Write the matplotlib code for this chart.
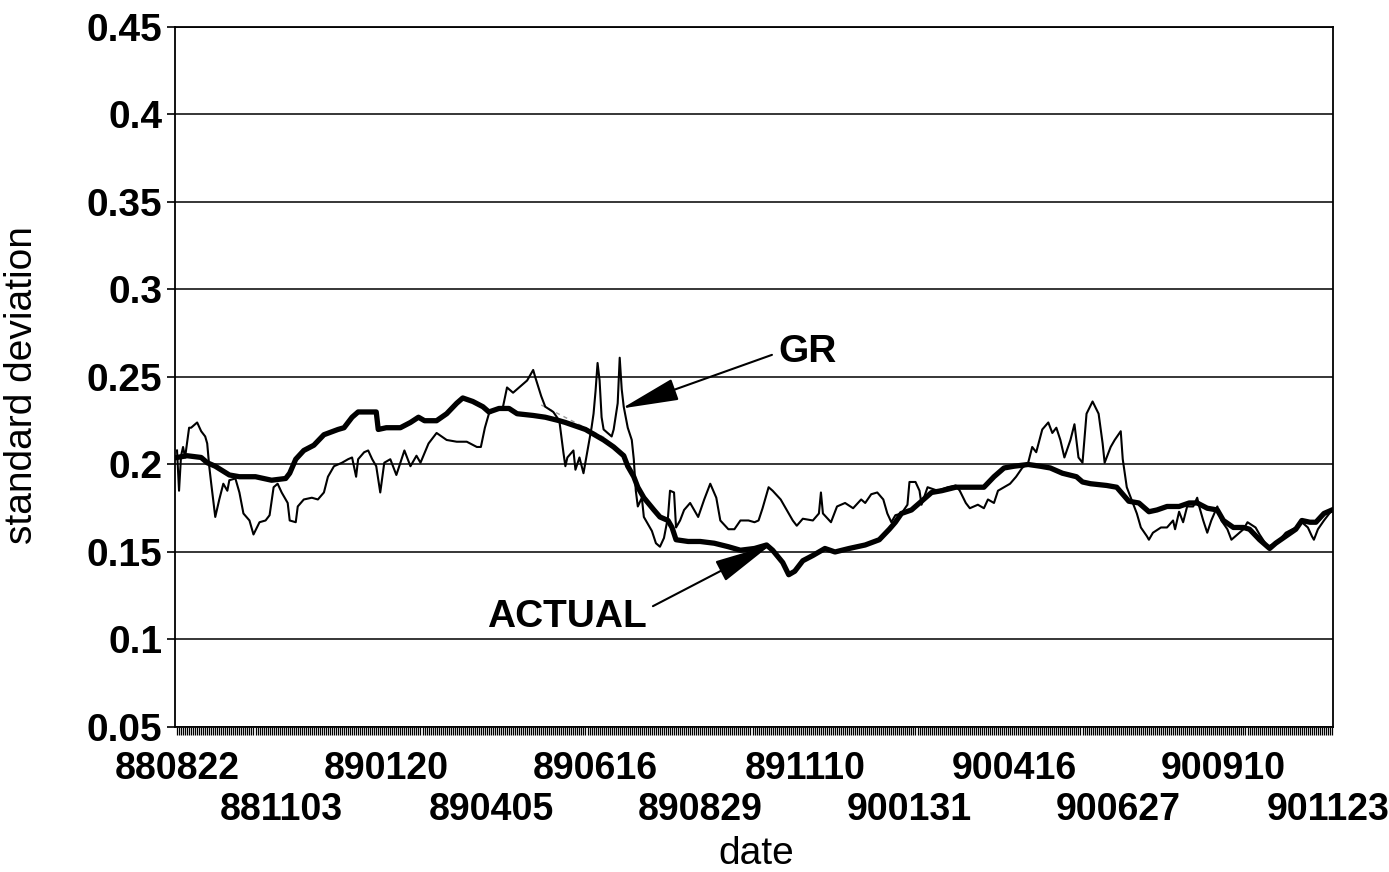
import matplotlib
matplotlib.use('Agg')
import matplotlib.pyplot as plt
import numpy as np

plt.rcParams['font.family'] = ['Liberation Sans', 'DejaVu Sans']

# ---------------- data ----------------
x_labels = ['880822', '881103', '890120', '890405', '890616', '890829',
            '891110', '900131', '900416', '900627', '900910', '901123']
label_step = 52          # observations between labelled dates
n_obs = 575              # number of daily observations

y_ticks = [0.05, 0.1, 0.15, 0.2, 0.25, 0.3, 0.35, 0.4, 0.45]
y_tick_labels = ['0.05', '0.1', '0.15', '0.2', '0.25', '0.3', '0.35', '0.4', '0.45']

# ACTUAL (thick line): observation index / standard deviation
actual_idx = [0, 5, 12, 15, 19, 26, 31, 39, 47, 54,
              56, 59, 63, 68, 73, 80, 83, 87, 90, 95,
              99, 100, 104, 111, 116, 120, 123, 129, 134, 139,
              142, 147, 152, 155, 160, 165, 169, 177, 183, 190,
              193, 203, 212, 217, 222, 224, 227, 229, 232, 237,
              240, 244, 246, 248, 254, 260, 267, 274, 280, 287,
              290, 293, 296, 301, 304, 307, 311, 316, 322, 327,
              334, 342, 349, 354, 357, 360, 365, 370, 375, 380,
              387, 393, 401, 406, 411, 416, 423, 429, 434, 440,
              447, 450, 454, 462, 467, 470, 473, 478, 483, 487,
              492, 498, 503, 507, 512, 517, 520, 525, 530, 533,
              538, 543, 546, 551, 556, 559, 563, 566, 570, 574]
actual_val = [0.204, 0.205, 0.204, 0.201, 0.199, 0.194, 0.193, 0.193, 0.191, 0.192,
              0.195, 0.203, 0.208, 0.211, 0.217, 0.220, 0.221, 0.227, 0.230, 0.230,
              0.230, 0.220, 0.221, 0.221, 0.224, 0.227, 0.225, 0.225, 0.229, 0.235,
              0.238, 0.236, 0.233, 0.230, 0.232, 0.232, 0.229, 0.228, 0.227, 0.225,
              0.224, 0.220, 0.214, 0.210, 0.205, 0.199, 0.193, 0.187, 0.181, 0.174,
              0.170, 0.168, 0.164, 0.157, 0.156, 0.156, 0.155, 0.153, 0.151, 0.152,
              0.153, 0.154, 0.151, 0.144, 0.137, 0.139, 0.145, 0.148, 0.152, 0.150,
              0.152, 0.154, 0.157, 0.163, 0.167, 0.172, 0.174, 0.179, 0.184, 0.185,
              0.187, 0.187, 0.187, 0.193, 0.198, 0.199, 0.200, 0.199, 0.198, 0.195,
              0.193, 0.190, 0.189, 0.188, 0.187, 0.183, 0.179, 0.178, 0.173, 0.174,
              0.176, 0.176, 0.178, 0.178, 0.175, 0.174, 0.168, 0.164, 0.164, 0.163,
              0.157, 0.152, 0.155, 0.159, 0.163, 0.168, 0.167, 0.167, 0.172, 0.174]

# GR (thin line)
gr_idx = [0, 1, 2, 3, 4, 6, 7, 10, 12, 14,
          15, 16, 17, 19, 21, 23, 25, 26, 29, 31,
          33, 36, 38, 41, 44, 46, 48, 50, 52, 55,
          56, 59, 60, 63, 67, 70, 73, 75, 78, 82,
          85, 87, 89, 90, 93, 95, 97, 99, 101, 103,
          106, 109, 113, 116, 119, 121, 125, 129, 134, 139,
          144, 149, 151, 153, 155, 159, 162, 164, 167, 170,
          174, 177, 178, 181, 183, 187, 190, 192, 193, 194,
          197, 198, 200, 202, 204, 206, 207, 208, 209, 210,
          211, 212, 216, 217, 219, 220, 221, 222, 224, 226,
          227, 228, 229, 231, 232, 236, 238, 240, 242, 244,
          245, 247, 248, 250, 252, 255, 259, 262, 265, 268,
          270, 274, 277, 280, 284, 287, 289, 291, 294, 296,
          300, 303, 306, 308, 311, 316, 319, 320, 321, 325,
          328, 332, 336, 340, 342, 345, 348, 351, 353, 355,
          357, 360, 363, 364, 367, 369, 370, 373, 378, 383,
          387, 389, 392, 394, 398, 401, 403, 406, 408, 411,
          414, 417, 420, 423, 425, 427, 430, 433, 435, 437,
          439, 441, 444, 446, 448, 450, 452, 455, 458, 460,
          461, 464, 466, 469, 470, 472, 474, 477, 479, 482,
          483, 485, 489, 492, 495, 496, 498, 500, 502, 505,
          507, 508, 510, 512, 514, 517, 519, 522, 524, 527,
          530, 532, 536, 538, 542, 544, 548, 551, 556, 559,
          562, 564, 565, 567, 570, 574]
gr_val = [0.208, 0.185, 0.205, 0.210, 0.204, 0.221, 0.221, 0.224, 0.219, 0.216,
          0.212, 0.199, 0.189, 0.170, 0.180, 0.189, 0.185, 0.191, 0.192, 0.184,
          0.172, 0.168, 0.160, 0.167, 0.168, 0.171, 0.187, 0.189, 0.184, 0.178,
          0.168, 0.167, 0.176, 0.180, 0.181, 0.180, 0.184, 0.193, 0.199, 0.201,
          0.203, 0.204, 0.193, 0.203, 0.207, 0.208, 0.203, 0.199, 0.184, 0.201,
          0.203, 0.194, 0.208, 0.199, 0.205, 0.201, 0.212, 0.218, 0.214, 0.213,
          0.213, 0.210, 0.210, 0.221, 0.229, 0.232, 0.233, 0.244, 0.241, 0.244,
          0.248, 0.254, 0.250, 0.239, 0.233, 0.230, 0.225, 0.207, 0.199, 0.204,
          0.208, 0.197, 0.204, 0.195, 0.208, 0.221, 0.229, 0.242, 0.258, 0.248,
          0.227, 0.220, 0.216, 0.220, 0.235, 0.261, 0.243, 0.233, 0.221, 0.214,
          0.203, 0.185, 0.176, 0.181, 0.170, 0.162, 0.155, 0.153, 0.158, 0.170,
          0.185, 0.184, 0.164, 0.168, 0.174, 0.178, 0.170, 0.180, 0.189, 0.181,
          0.168, 0.163, 0.163, 0.168, 0.168, 0.167, 0.168, 0.175, 0.187, 0.185,
          0.180, 0.174, 0.168, 0.165, 0.169, 0.168, 0.172, 0.184, 0.172, 0.167,
          0.176, 0.178, 0.175, 0.180, 0.178, 0.183, 0.184, 0.180, 0.172, 0.167,
          0.171, 0.172, 0.177, 0.190, 0.190, 0.185, 0.177, 0.187, 0.185, 0.187,
          0.188, 0.185, 0.178, 0.175, 0.177, 0.175, 0.180, 0.178, 0.185, 0.187,
          0.189, 0.193, 0.198, 0.201, 0.210, 0.207, 0.220, 0.224, 0.218, 0.221,
          0.214, 0.204, 0.214, 0.223, 0.204, 0.201, 0.229, 0.236, 0.229, 0.212,
          0.201, 0.210, 0.214, 0.219, 0.203, 0.187, 0.181, 0.172, 0.164, 0.159,
          0.157, 0.161, 0.164, 0.164, 0.168, 0.163, 0.173, 0.167, 0.176, 0.176,
          0.181, 0.176, 0.168, 0.161, 0.168, 0.176, 0.168, 0.163, 0.157, 0.160,
          0.163, 0.167, 0.164, 0.160, 0.153, 0.154, 0.157, 0.161, 0.164, 0.167,
          0.164, 0.159, 0.157, 0.163, 0.168, 0.174]

# faint connecting segment (gap in GR data)
gap_idx = [181, 213]
gap_val = [0.234, 0.215]

# ---------------- figure ----------------
fig = plt.figure(figsize=(13.89, 8.72), dpi=100)
ax = fig.add_axes([0.126, 0.1663, 0.8337, 0.8028])

ax.set_xlim(-1, n_obs - 0.5)
ax.set_ylim(0.05, 0.45)

ax.set_yticks(y_ticks)
ax.set_yticklabels(y_tick_labels)
ax.yaxis.grid(True, color='black', lw=1.1)
ax.set_axisbelow(True)

ax.plot(gap_idx, gap_val, color='#999999', lw=1.0, ls=(0, (3, 3)))
ax.plot(actual_idx, actual_val, color='black', lw=3.8, solid_joinstyle='round')
ax.plot(gr_idx, gr_val, color='black', lw=1.5, solid_joinstyle='round')

# x ticks: every observation; labels alternate between two rows
even_pos = [k * label_step for k in range(0, len(x_labels), 2)]
odd_pos = [k * label_step for k in range(1, len(x_labels), 2)]
ax.set_xticks(even_pos)
ax.set_xticklabels(x_labels[0::2])
ax.set_xticks(np.arange(n_obs), minor=True)
ax.tick_params(axis='x', which='both', direction='out', length=6, width=0.9,
               color='black')
ax.tick_params(axis='x', which='major', pad=11, labelsize=27)
for t in ax.get_xticklabels():
    t.set_fontweight('bold')

sec = ax.secondary_xaxis('bottom', functions=(lambda v: v, lambda v: v))
sec.set_xticks(odd_pos)
sec.set_xticklabels(x_labels[1::2])
sec.tick_params(axis='x', length=0, pad=47, labelsize=27)
sec.spines['bottom'].set_visible(False)
for t in sec.get_xticklabels():
    t.set_fontweight('bold')

ax.tick_params(axis='y', which='major', direction='out', length=6, width=1.2,
               pad=3, labelsize=28)
for t in ax.get_yticklabels():
    t.set_fontweight('bold')

for s in ax.spines.values():
    s.set_linewidth(1.3)
    s.set_color('black')

fig.text(756 / 1389, 1 - 854 / 872, 'date', ha='center', va='center', fontsize=28)
fig.text(22 / 1389, 1 - 385 / 872, 'standard deviation', ha='center', va='center',
         rotation=90, fontsize=28)

arrow_kw = dict(arrowstyle='-|>,head_length=1.8,head_width=0.35',
                mutation_scale=20, lw=1.5, color='black',
                shrinkA=3, shrinkB=0)
ax.annotate('GR', xy=(221, 0.232), xytext=(299, 0.264), ha='left', va='center',
            fontsize=28, fontweight='bold',
            arrowprops=dict(relpos=(0, 0.5), **arrow_kw))
ax.annotate('ACTUAL', xy=(295, 0.154), xytext=(193.6, 0.113), ha='center',
            va='center', fontsize=28, fontweight='bold',
            arrowprops=dict(relpos=(1, 0.7), **arrow_kw))

fig.savefig('out.png', dpi=100)
